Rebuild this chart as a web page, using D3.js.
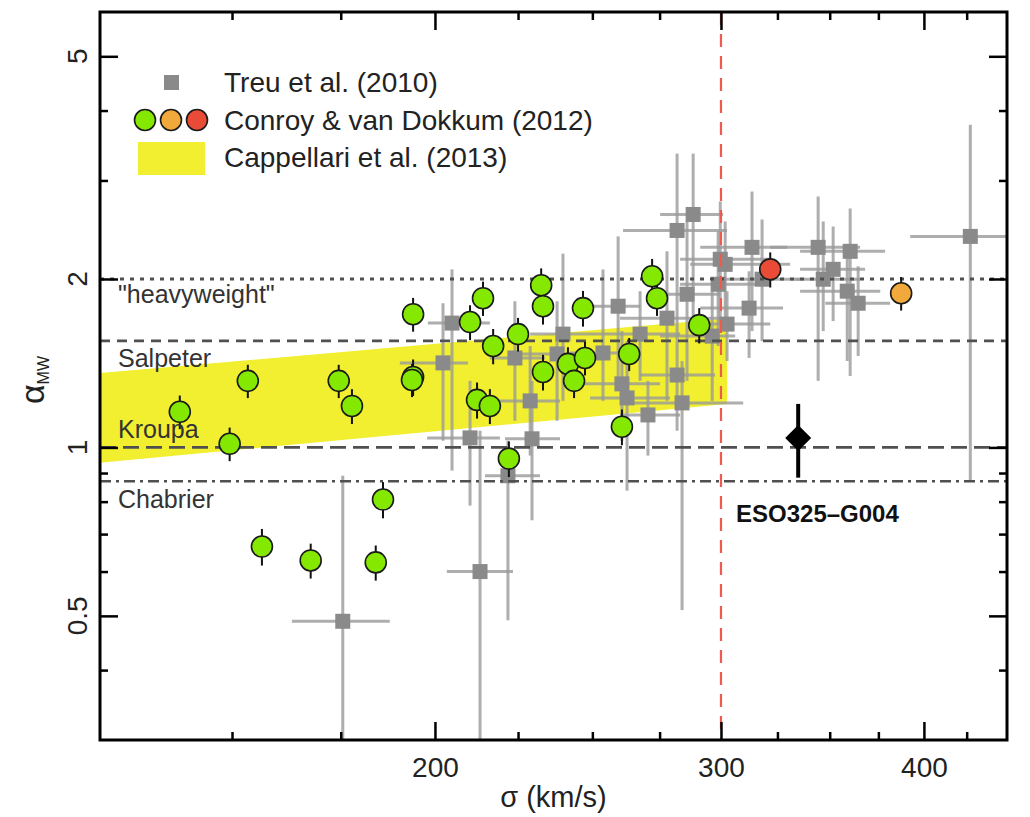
<!DOCTYPE html>
<html>
<head>
<meta charset="utf-8">
<script src="https://cdn.jsdelivr.net/npm/d3@7"></script>
<style>
  body { margin: 0; background: #fff; }
  svg text { font-family: "Liberation Sans", Arial, Helvetica, sans-serif; }
</style>
</head>
<body>
<svg id="chart"></svg>
<script>
// Conroy & van Dokkum (2012), green points
const cvdSigma = [139.3, 149.5, 153.4, 156.5, 167.7, 174.5, 177.8, 183.9, 185.8, 193.9,
  193.9, 193.6, 210.2, 212.3, 214.1, 216.2, 217.2, 222.1, 225.0, 232.5,
  233.1, 233.1, 241.5, 243.6, 247.4, 246.7, 260.7, 263.4, 272.1, 274.0, 290.9];
const cvdAlpha = [1.158, 1.015, 1.315, 0.665, 0.628, 1.315, 1.186, 0.623, 0.807, 1.730,
  1.336, 1.320, 1.675, 1.216, 1.848, 1.186, 1.518, 0.955, 1.594, 1.949,
  1.788, 1.364, 1.410, 1.315, 1.445, 1.774, 1.089, 1.469, 2.022, 1.848, 1.654];
const cvdErr = [0.08, 0.07, 0.09, 0.05, 0.045, 0.09, 0.085, 0.045, 0.06, 0.12,
  0.10, 0.09, 0.12, 0.09, 0.13, 0.085, 0.11, 0.07, 0.11, 0.14,
  0.13, 0.10, 0.10, 0.09, 0.10, 0.13, 0.08, 0.10, 0.15, 0.13, 0.12];
// the two high-sigma CvD points
const orangeSigma = [387.3], orangeAlpha = [1.886], orangeErr = [0.13];
const redSigma = [321.7], redAlpha = [2.081], redErr = [0.15];

// Treu et al. (2010)
const treuSigma = [175.5, 213.2, 202.3, 204.9, 210.2, 224.0, 228.9, 229.5, 221.8, 237.8,
  239.8, 253.8, 259.3, 260.7, 262.6, 270.5, 277.9, 281.9, 288.4, 281.9,
  283.9, 285.9, 296.3, 298.8, 299.7, 301.8, 302.6, 312.2, 313.5, 318.0,
  344.3, 360.3, 351.7, 346.8, 358.8, 364.4, 427.2, 267.5];
const treuAlpha = [0.489, 0.600, 1.416, 1.668, 1.040, 1.445, 1.211, 1.036, 0.890, 1.469,
  1.594, 1.475, 1.788, 1.299, 1.226, 1.143, 1.702, 2.442, 2.608, 1.347,
  1.201, 1.878, 1.581, 1.957, 2.169, 2.124, 1.661, 1.774, 2.278, 1.998,
  2.278, 2.241, 2.081, 1.998, 1.902, 1.810, 2.383, 1.594];
const treuSigLo = [163.3, 203.4, 190.3, 198.0, 197.8, 216.2, 217.8, 220.9, 214.7, 225.6,
  228.9, 242.2, 249.2, 245.7, 249.2, 260.0, 260.0, 261.1, 275.2, 267.5,
  260.0, 271.3, 275.2, 283.1, 283.1, 287.2, 291.3, 291.3, 291.3, 299.7,
  321.7, 335.6, 335.6, 333.3, 335.6, 347.8, 392.3, 252.7];
const treuSigHi = [187.6, 223.4, 209.6, 216.2, 219.3, 233.8, 238.8, 238.8, 232.1, 252.7,
  252.7, 267.5, 267.5, 275.2, 279.1, 283.1, 299.7, 302.6, 300.9, 297.5,
  309.6, 299.7, 306.1, 317.1, 321.7, 330.9, 321.7, 327.6, 329.5, 335.6,
  365.4, 378.6, 368.0, 365.4, 376.0, 381.3, 458.6, 283.1];
const treuAlphaLo = [0.27, 0.27, 1.028, 0.909, 0.787, 1.116, 0.967, 0.741, 0.491, 1.116,
  1.211, 1.211, 1.315, 1.028, 0.837, 0.967, 1.211, 1.614, 1.614, 1.071,
  0.512, 1.315, 1.211, 1.518, 1.682, 1.682, 1.427, 1.445, 1.614, 1.549,
  1.315, 1.342, 1.682, 1.614, 1.427, 1.457, 0.872, 1.315];
const treuAlphaHi = [0.890, 1.071, 1.810, 2.081, 1.315, 1.825, 1.518, 1.315, 1.028, 1.825,
  2.22, 2.08, 2.383, 1.614, 1.549, 1.315, 2.241, 3.350, 3.350, 1.614,
  1.427, 2.534, 1.902, 2.432, 2.751, 2.534, 1.902, 2.064, 2.866, 2.555,
  2.808, 2.673, 2.482, 2.534, 2.195, 2.107, 3.772, 1.902];

// Cappellari et al. (2013) band
const bandSigma = [124.4, 302.6];
const bandLo = [0.939, 1.196];
const bandHi = [1.358, 1.70];

// reference IMFs
const imfNames = ['"heavyweight"', "Salpeter", "Kroupa", "Chabrier"];
const imfAlpha = [2.0, 1.55, 1.0, 0.87];

// ESO325-G004
const esoSigma = [334.7], esoAlpha = [1.04], esoLo = [0.883], esoHi = [1.196];

const xMajor = [200, 300, 400];
const xMinor = [150, 175, 225, 250, 275, 325, 350, 375, 425];
const yMajor = [0.5, 1, 2, 5];
const yMinor = [0.4, 0.6, 0.7, 0.8, 0.9, 3, 4];

const WIDTH = 1030, HEIGHT = 817;
const MARGIN = { top: 12, right: 23, bottom: 77, left: 100 };
const PLOT_W = WIDTH - MARGIN.left - MARGIN.right;
const PLOT_H = HEIGHT - MARGIN.top - MARGIN.bottom;

const svg = d3.select("#chart").attr("width", WIDTH).attr("height", HEIGHT);
const g = svg.append("g").attr("transform", "translate(" + MARGIN.left + "," + MARGIN.top + ")");

const xScale = d3.scaleLog().domain([124.4, 450]).range([0, PLOT_W]);
const yScale = d3.scaleLog().domain([0.3, 6]).range([PLOT_H, 0]);

g.append("clipPath").attr("id", "clip")
  .append("rect").attr("width", PLOT_W).attr("height", PLOT_H);
const plot = g.append("g").attr("clip-path", "url(#clip)");

// yellow band
const band = bandSigma.map((s, i) => ({ s: s, lo: bandLo[i], hi: bandHi[i] }));
plot.append("path")
  .datum(band)
  .attr("fill", "#f1ef2f")
  .attr("d", d3.area().x(d => xScale(d.s)).y0(d => yScale(d.lo)).y1(d => yScale(d.hi)));

// Treu error bars and squares
const treu = treuSigma.map((s, i) => ({
  s: s, a: treuAlpha[i], sLo: treuSigLo[i], sHi: treuSigHi[i], aLo: treuAlphaLo[i], aHi: treuAlphaHi[i]
}));
const tb = plot.append("g").attr("stroke", "#9a9a9a").attr("stroke-width", 3).attr("stroke-opacity", 0.8);
tb.selectAll(".h").data(treu).enter().append("line")
  .attr("x1", d => xScale(d.sLo)).attr("x2", d => xScale(d.sHi))
  .attr("y1", d => yScale(d.a)).attr("y2", d => yScale(d.a));
tb.selectAll(".v").data(treu).enter().append("line")
  .attr("x1", d => xScale(d.s)).attr("x2", d => xScale(d.s))
  .attr("y1", d => yScale(d.aLo)).attr("y2", d => yScale(d.aHi));
plot.append("g").selectAll("rect").data(treu).enter().append("rect")
  .attr("x", d => xScale(d.s) - 7.5).attr("y", d => yScale(d.a) - 7.5)
  .attr("width", 15).attr("height", 15)
  .attr("fill", "#8a8a8a");

// reference lines
const dashes = ["4,6", "10,7", "16,7", "11,5,3,5"];
imfAlpha.forEach((a, i) => {
  plot.append("line")
    .attr("x1", 0).attr("x2", PLOT_W)
    .attr("y1", yScale(a)).attr("y2", yScale(a))
    .attr("stroke", "#505050").attr("stroke-width", i === 0 ? 3 : 2.6)
    .attr("stroke-dasharray", dashes[i]);
});
const labelDy = [24, 26, -9, 27];
g.selectAll(".imf").data(imfNames).enter().append("text")
  .attr("x", 18).attr("y", (d, i) => yScale(imfAlpha[i]) + labelDy[i])
  .attr("font-size", 25).attr("fill", "#333")
  .text(d => d);

// sigma = 300 line
plot.append("line")
  .attr("x1", xScale(300)).attr("x2", xScale(300))
  .attr("y1", 0).attr("y2", PLOT_H)
  .attr("stroke", "#ef5a50").attr("stroke-width", 2.2)
  .attr("stroke-dasharray", "13,9");

// Conroy & van Dokkum points
function cvdLayer(sig, alp, err, fill) {
  const data = sig.map((s, i) => ({ s: s, a: alp[i], e: err[i] }));
  const lay = plot.append("g");
  lay.selectAll("line").data(data).enter().append("line")
    .attr("x1", d => xScale(d.s)).attr("x2", d => xScale(d.s))
    .attr("y1", d => yScale(d.a - d.e)).attr("y2", d => yScale(d.a + d.e))
    .attr("stroke", "#111").attr("stroke-width", 2);
  lay.selectAll("circle").data(data).enter().append("circle")
    .attr("cx", d => xScale(d.s)).attr("cy", d => yScale(d.a)).attr("r", 10.5)
    .attr("fill", fill).attr("stroke", "#1a1a1a").attr("stroke-width", 1.6);
}
cvdLayer(cvdSigma, cvdAlpha, cvdErr, "#84e800");
cvdLayer(orangeSigma, orangeAlpha, orangeErr, "#f2a93b");
cvdLayer(redSigma, redAlpha, redErr, "#ea4b37");

// ESO325-G004
plot.append("line")
  .attr("x1", xScale(esoSigma[0])).attr("x2", xScale(esoSigma[0]))
  .attr("y1", yScale(esoLo[0])).attr("y2", yScale(esoHi[0]))
  .attr("stroke", "#000").attr("stroke-width", 4);
plot.append("path")
  .attr("transform", "translate(" + xScale(esoSigma[0]) + "," + yScale(esoAlpha[0]) + ")")
  .attr("d", "M0,-13L13,0L0,13L-13,0Z")
  .attr("fill", "#000");
g.append("text")
  .attr("x", 636).attr("y", 510)
  .attr("font-size", 24).attr("font-weight", "bold").attr("fill", "#111")
  .text("ESO325\u2013G004");

// axes: ticks inward on all four sides
function styleAxis(sel) {
  sel.select(".domain").remove();
  sel.selectAll(".tick line").attr("stroke", "#000").attr("stroke-width", 2.5);
}
const xb = g.append("g").attr("transform", "translate(0," + PLOT_H + ")")
  .call(d3.axisBottom(xScale).tickValues(xMajor).tickSizeInner(-18).tickSizeOuter(0)
    .tickPadding(17).tickFormat(d3.format("d")));
styleAxis(xb);
xb.selectAll("text").attr("font-size", 28).attr("fill", "#222")
  .style("font-family", "'Liberation Sans', Arial, sans-serif");
styleAxis(g.append("g").attr("transform", "translate(0," + PLOT_H + ")")
  .call(d3.axisBottom(xScale).tickValues(xMinor).tickSizeInner(-8).tickSizeOuter(0).tickFormat("")));
styleAxis(g.append("g")
  .call(d3.axisTop(xScale).tickValues(xMajor).tickSizeInner(-18).tickSizeOuter(0).tickFormat("")));
styleAxis(g.append("g")
  .call(d3.axisTop(xScale).tickValues(xMinor).tickSizeInner(-8).tickSizeOuter(0).tickFormat("")));
styleAxis(g.append("g")
  .call(d3.axisLeft(yScale).tickValues(yMajor).tickSizeInner(-18).tickSizeOuter(0).tickFormat("")));
styleAxis(g.append("g")
  .call(d3.axisLeft(yScale).tickValues(yMinor).tickSizeInner(-8).tickSizeOuter(0).tickFormat("")));
styleAxis(g.append("g").attr("transform", "translate(" + PLOT_W + ",0)")
  .call(d3.axisRight(yScale).tickValues(yMajor).tickSizeInner(-18).tickSizeOuter(0).tickFormat("")));
styleAxis(g.append("g").attr("transform", "translate(" + PLOT_W + ",0)")
  .call(d3.axisRight(yScale).tickValues(yMinor).tickSizeInner(-8).tickSizeOuter(0).tickFormat("")));

// rotated y tick labels
g.selectAll(".ylab").data(yMajor).enter().append("text")
  .attr("transform", d => "translate(-13," + yScale(d) + ") rotate(-90)")
  .attr("text-anchor", "middle")
  .attr("font-size", 28).attr("fill", "#222")
  .text(d => d);

// frame
g.append("rect").attr("width", PLOT_W).attr("height", PLOT_H)
  .attr("fill", "none").attr("stroke", "#000").attr("stroke-width", 3);

// axis titles
svg.append("text")
  .attr("x", MARGIN.left + PLOT_W / 2).attr("y", 807)
  .attr("text-anchor", "middle").attr("font-size", 29).attr("fill", "#222")
  .text("\u03c3 (km/s)");
const yt = svg.append("text")
  .attr("transform", "translate(44,380) rotate(-90)")
  .attr("text-anchor", "middle").attr("fill", "#222");
yt.append("tspan").attr("font-size", 34).text("\u03b1");
yt.append("tspan").attr("font-size", 16).attr("dy", 5).text("MW");

// legend
const leg = svg.append("g");
leg.append("rect").attr("x", 164).attr("y", 75).attr("width", 15).attr("height", 15).attr("fill", "#8a8a8a");
[["#84e800", 145], ["#f2a93b", 171], ["#ea4b37", 197]].forEach(c => {
  leg.append("circle").attr("cx", c[1]).attr("cy", 120).attr("r", 10.5)
    .attr("fill", c[0]).attr("stroke", "#1a1a1a").attr("stroke-width", 1.6);
});
leg.append("rect").attr("x", 138).attr("y", 142).attr("width", 67).attr("height", 33).attr("fill", "#f1ef2f");
const legText = ["Treu et al. (2010)", "Conroy & van Dokkum (2012)", "Cappellari et al. (2013)"];
const legY = [92, 130, 167];
leg.selectAll(".lt").data(legText).enter().append("text")
  .attr("x", 224).attr("y", (d, i) => legY[i])
  .attr("font-size", 28).attr("fill", "#222")
  .text(d => d);
</script>
</body>
</html>
